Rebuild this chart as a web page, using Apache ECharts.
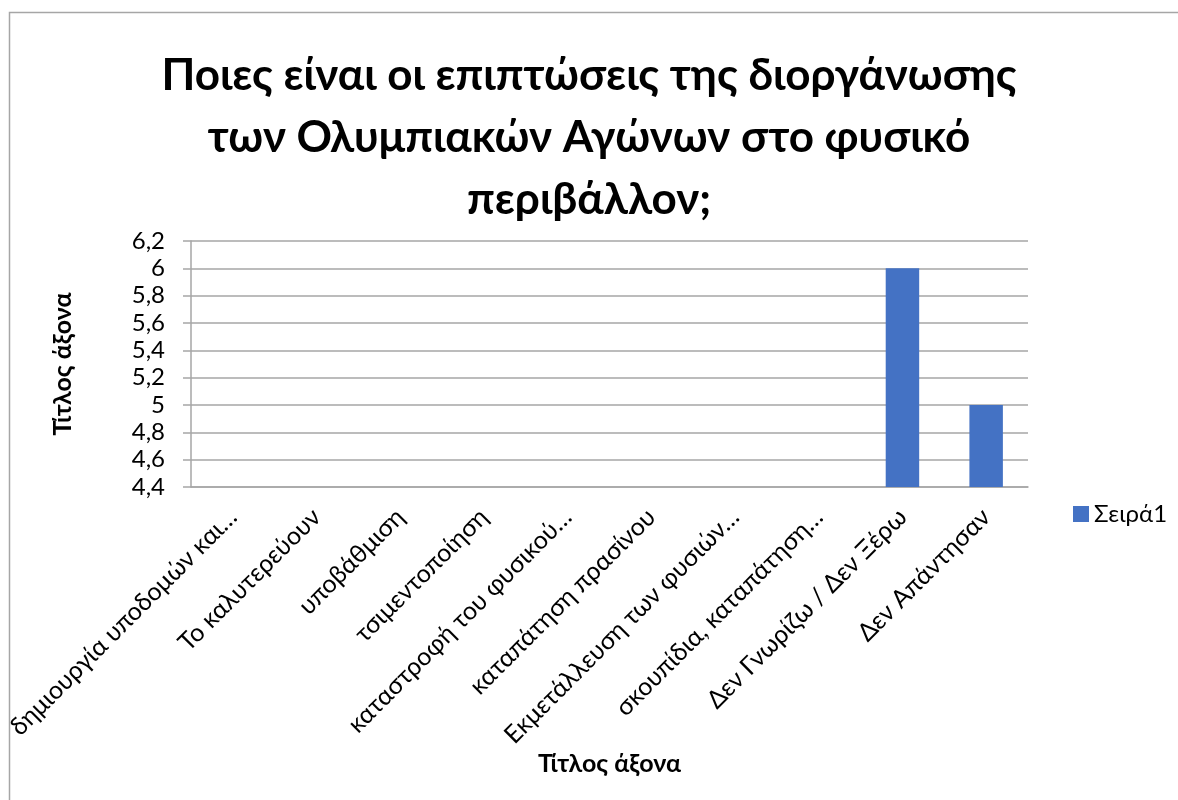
<!DOCTYPE html>
<html>
<head>
<meta charset="utf-8">
<script src="https://cdn.jsdelivr.net/npm/echarts@6/dist/echarts.min.js"></script>
<style>
  html, body { margin: 0; padding: 0; background: #fff; }
  #chart { width: 1178px; height: 800px; }
</style>
</head>
<body>
<div id="chart"></div>
<script>
const titleText = 'Ποιες είναι οι επιπτώσεις της διοργάνωσης\nτων Ολυμπιακών Αγώνων στο φυσικό\nπεριβάλλον;';
const categories = [
  'δημιουργία υποδομών και…',
  'Το καλυτερεύουν',
  'υποβάθμιση',
  'τσιμεντοποίηση',
  'καταστροφή του φυσικού…',
  'καταπάτηση πρασίνου',
  'Εκμετάλλευση των φυσιών…',
  'σκουπίδια, καταπάτηση…',
  'Δεν Γνωρίζω / Δεν Ξέρω',
  'Δεν Απάντησαν'
];
// first eight values lie below the axis minimum (4,4) and cannot be read
const seriesName = 'Σειρά1';
const seriesValues = [null, null, null, null, null, null, null, null, 6, 5];
const yMin = 4.4, yMax = 6.2, yStep = 0.2;
const axisTitleX = 'Τίτλος άξονα';
const axisTitleY = 'Τίτλος άξονα';

const FONT = 'Lato, "Open Sans", sans-serif';
const chart = echarts.init(document.getElementById('chart'), null, { renderer: 'canvas' });
chart.setOption({
  animation: false,
  backgroundColor: '#fff',
  textStyle: { fontFamily: FONT, color: '#000' },
  graphic: [{
    type: 'rect', left: 7, top: 10, z: -1,
    shape: { width: 1200, height: 820 },
    style: { fill: 'none', stroke: '#a6a6a6', lineWidth: 1.5 }
  }],
  title: {
    text: titleText,
    left: 'center', top: 40,
    textStyle: { fontFamily: FONT, fontSize: 44, fontWeight: 'bold', lineHeight: 62, color: '#000' }
  },
  legend: {
    data: [seriesName],
    orient: 'vertical', left: 1068, top: 497,
    itemWidth: 16, itemHeight: 16, itemGap: 5,
    icon: 'rect',
    textStyle: { fontFamily: FONT, fontSize: 24, color: '#000' }
  },
  grid: { left: 191, right: 150, top: 241, bottom: 313, containLabel: false },
  xAxis: {
    type: 'category',
    data: categories,
    name: axisTitleX,
    nameLocation: 'middle',
    nameGap: 262,
    nameTextStyle: { fontFamily: FONT, fontSize: 25, fontWeight: 'bold', color: '#000' },
    axisLine: { lineStyle: { color: '#a6a6a6', width: 1.5 } },
    axisTick: { show: false },
    axisLabel: { interval: 0, rotate: 45, margin: 26, fontSize: 25, color: '#000', fontFamily: FONT }
  },
  yAxis: {
    type: 'value',
    min: yMin, max: yMax, interval: yStep,
    name: axisTitleY,
    nameLocation: 'middle',
    nameGap: 116,
    nameRotate: 90,
    nameTextStyle: { fontFamily: FONT, fontSize: 25, fontWeight: 'bold', color: '#000' },
    axisLine: { show: true, lineStyle: { color: '#a6a6a6', width: 1.5 } },
    axisTick: { show: true, length: 8, lineStyle: { color: '#a6a6a6', width: 1.5 } },
    splitLine: { lineStyle: { color: '#a6a6a6', width: 1.5 } },
    axisLabel: {
      margin: 26, fontSize: 24, color: '#000', fontFamily: FONT,
      formatter: v => String(Math.round(v * 10) / 10).replace('.', ',')
    }
  },
  series: [{
    name: seriesName,
    type: 'bar',
    data: seriesValues,
    barWidth: '40%',
    itemStyle: { color: '#4472C4' }
  }]
});
</script>
</body>
</html>
